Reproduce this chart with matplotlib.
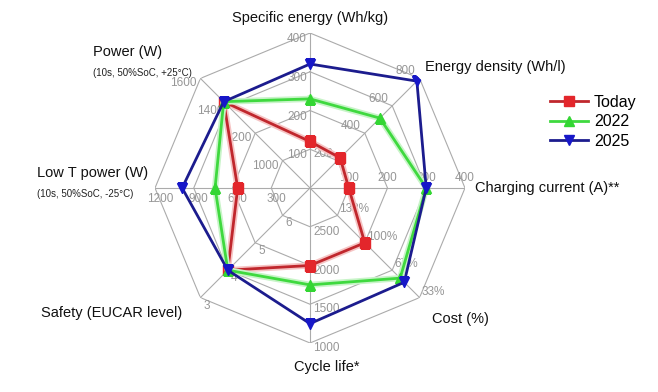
import numpy as np
import matplotlib
matplotlib.use("Agg")
import matplotlib.pyplot as plt
import matplotlib.patheffects as pe
from matplotlib.lines import Line2D

plt.rcParams['font.family'] = ['Liberation Sans', 'DejaVu Sans']

# ---- data ----
axis_names = ["Specific energy (Wh/kg)", "Energy density (Wh/l)", "Charging current (A)**",
              "Cost (%)", "Cycle life*", "Safety (EUCAR level)", "Low T power (W)", "Power (W)"]
axis_center = [0, 0, 0, 166.67, 3000, 7, 0, 800]
axis_outer = [400, 800, 400, 33.33, 1000, 3, 1200, 1600]
tick_labels = [["100", "200", "300", "400"],
               ["200", "400", "600", "800"],
               ["100", "200", "300", "400"],
               ["133%", "100%", "67%", "33%"],
               ["2500", "2000", "1500", "1000"],
               ["6", "5", "4", "3"],
               ["300", "600", "900", "1200"],
               ["1000", "1200", "1400", "1600"]]
series_names = ["Today", "2022", "2025"]
today = [120, 220, 100, 100, 2000, 4, 560, 1430]
y2022 = [230, 510, 300, 57, 1750, 4, 735, 1430]
y2025 = [320, 780, 300, 52, 1250, 4, 990, 1430]
series_values = [today, y2022, y2025]

# ---- styles ----
line_colors = ["#c0272d", "#3fd93f", "#1c1c8e"]
marker_colors = ["#e3262b", "#33d633", "#1717c8"]
glow_colors = ["#f6c4c4", "#c8f4c8", None]
markers = ["s", "^", "v"]
msizes = [6.5, 7.5, 7.5]

W, H = 658, 392
cx, cy, R = 310, 188, 155
fig = plt.figure(figsize=(W / 100, H / 100), dpi=100)
ax = fig.add_axes([(cx - R) / W, (H - cy - R) / H, 2 * R / W, 2 * R / H], projection='polar')
ax.set_theta_zero_location('N')
ax.set_theta_direction(-1)
ax.set_ylim(0, 1)
ax.axis('off')

n = len(axis_names)
theta = np.deg2rad(np.arange(n) * 360.0 / n)
grid_c = "#ababab"

# rings
for k in range(1, 5):
    r = k / 4
    ax.plot(np.append(theta, theta[0]), [r] * (n + 1), color=grid_c, lw=0.8, zorder=1)
# spokes
for t in theta:
    ax.plot([t, t], [0, 1], color=grid_c, lw=0.8, zorder=1)


def norm(i, v):
    return (v - axis_center[i]) / (axis_outer[i] - axis_center[i])


# tick labels
tick_off = [(-3, -6, 'right'), (-4, 7, 'right'), (0, 10, 'center'), (2, 6, 'left'),
            (3, -5, 'left'), (3, -8, 'left'), (5, -11, 'center'), (-4, -5, 'right')]
for i in range(n):
    dx, dy, ha = tick_off[i]
    for k, lab in enumerate(tick_labels[i]):
        ax.annotate(lab, xy=(theta[i], (k + 1) / 4), xytext=(dx, dy), textcoords='offset pixels',
                    ha=ha, va='center', fontsize=8.5, color="#969696", zorder=2)

# axis labels
lab_off = [(0, 15, 'center'), (5, 11, 'left'), (10, 0, 'left'), (12, -21, 'left'),
           (17, -24, 'center'), (-18, -15, 'right'), (-118, 15, 'left'), (-107, 26, 'left')]
for i in range(n):
    dx, dy, ha = lab_off[i]
    ax.annotate(axis_names[i], xy=(theta[i], 1), xytext=(dx, dy), textcoords='offset pixels',
                ha=ha, va='center', fontsize=10.5, color="#111111")
ax.annotate("(10s, 50%SoC, -25°C)", xy=(theta[6], 1), xytext=(-118, -6), textcoords='offset pixels',
            ha='left', va='center', fontsize=7, color="#222222")
ax.annotate("(10s, 50%SoC, +25°C)", xy=(theta[7], 1), xytext=(-107, 5), textcoords='offset pixels',
            ha='left', va='center', fontsize=7, color="#222222")

# series
handles = []
for s, vals in enumerate(series_values):
    rr = [norm(i, v) for i, v in enumerate(vals)]
    tt = np.append(theta, theta[0])
    rc = rr + [rr[0]]
    peff = [pe.Stroke(linewidth=4.5, foreground=glow_colors[s]), pe.Normal()] if glow_colors[s] else None
    ax.plot(tt, rc, color=line_colors[s], lw=2.0, zorder=3 + s, path_effects=peff)
    ax.plot(theta, rr, ls='none', marker=markers[s], ms=msizes[s], mfc=marker_colors[s],
            mec=marker_colors[s], zorder=3.5 + s)
    handles.append(Line2D([], [], color=line_colors[s], lw=2.0, marker=markers[s], ms=msizes[s],
                          mfc=marker_colors[s], mec=marker_colors[s], label=series_names[s]))

fig.legend(handles=handles, loc='upper left', bbox_to_anchor=(550 / W, (H - 95) / H), frameon=False,
           fontsize=11.5, handlelength=2.4, handletextpad=0.35, labelspacing=0.28, borderpad=0,
           borderaxespad=0)

fig.savefig("out.png", dpi=100)
